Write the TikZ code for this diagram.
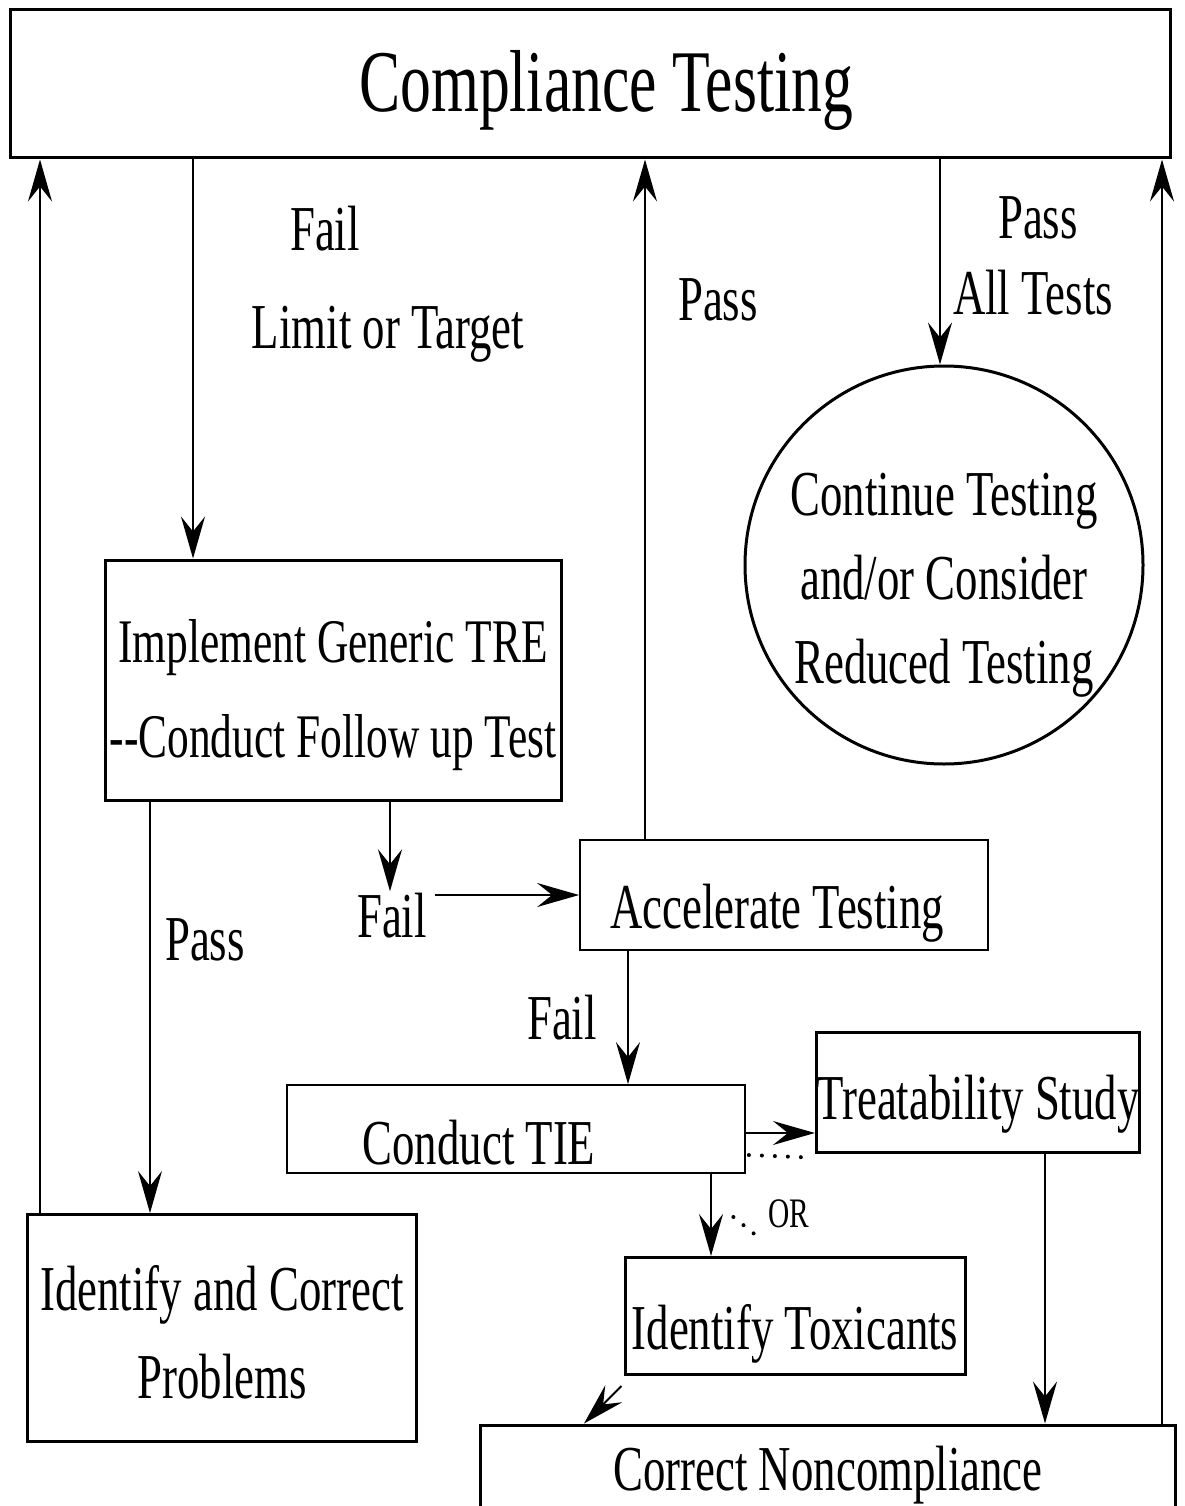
\documentclass[tikz,border=0pt]{standalone}
\usepackage{fontspec}
\setmainfont{Liberation Serif}[FakeStretch=0.7]
\usetikzlibrary{arrows.meta}
\newcommand\shiftv[2]{\raisebox{#1}[\height][\depth]{#2}}
\newcommand\lowr[2]{\raisebox{-#1}[\height][\depth]{\begin{tabular}{@{}c@{}}#2\end{tabular}}}
\begin{document}
\begin{tikzpicture}[x=1pt,y=-1pt,
  thickbox/.style={draw,line width=3pt,rectangle,inner sep=0pt,align=center},
  thinbox/.style={draw,line width=1.8pt,rectangle,inner sep=0pt,align=center},
  txt/.style={font=\fontsize{64}{90}\selectfont},
  lbl/.style={inner sep=2pt,font=\fontsize{64}{76}\selectfont,align=center},
  arr/.style={line width=2pt,-{Stealth[length=42pt,width=24pt,inset=15pt]}},
  dotl/.style={line width=4pt,line cap=round,dash pattern=on 0pt off 13pt}]
\useasboundingbox (0,0) rectangle (1184,1506);
\fill[white] (0,0) rectangle (1184,1506);

\node[thickbox,minimum width=1160pt,minimum height=148pt,font=\fontsize{88}{100}\selectfont] (ct) at (590,84) {\hspace*{32pt}\shiftv{-6pt}{Compliance Testing}};
\node[thickbox,minimum width=456pt,minimum height=240pt,font=\fontsize{62}{95}\selectfont] (impl) at (333,680) {\lowr{11pt}{Implement Generic TRE\\-{}-Conduct Follow up Test}};
\node[draw,line width=3pt,circle,minimum size=398pt,inner sep=0pt,font=\fontsize{64}{84}\selectfont] (circ) at (944,565) {\lowr{18pt}{Continue Testing\\and/or Consider\\Reduced Testing}};
\node[thinbox,txt,minimum width=408pt,minimum height=110pt] (acc) at (784,895) {\shiftv{-18pt}{Accelerate Testing}\hspace*{14pt}};
\node[thinbox,txt,minimum width=458pt,minimum height=88pt] (tie) at (516,1129) {\shiftv{-14pt}{\hspace*{-74pt}Conduct TIE}};
\node[thickbox,txt,minimum width=320pt,minimum height=120pt] (ts) at (978,1092) {\shiftv{-12pt}{Treatability Study}};
\node[thickbox,txt,minimum width=340pt,minimum height=117pt] (idt) at (795,1316) {\shiftv{-18pt}{Identify Toxicants}};
\node[thickbox,minimum width=389pt,minimum height=227pt,font=\fontsize{64}{88}\selectfont] (idp) at (222,1328) {\lowr{9pt}{Identify and Correct\\Problems}};
\node[thickbox,txt,minimum width=695pt,minimum height=110pt] (cnc) at (828,1480) {\shiftv{5pt}{Correct Noncompliance}};

\node[lbl] (f1) at (325,229) {Fail};
\node[lbl] (lt) at (388,334) {Limit or Target};
\node[lbl] (p1) at (718,300) {Pass};
\node[lbl] (p2) at (1038,218) {Pass};
\node[lbl] (at) at (1033,293) {All Tests};
\node[lbl] (p3) at (205,940) {Pass};
\node[lbl] (f2) at (392,916) {Fail};
\node[lbl] (f3) at (562,1018) {Fail};
\node[inner sep=1pt,font=\fontsize{42}{46}\selectfont] (or) at (789,1214) {OR};

% connectors
\draw[arr] ([xshift=-182pt]idp.north) -- ([xshift=-182pt]idp.north |- ct.south);
\draw[arr] ([xshift=-140pt]impl.north |- ct.south) -- ([xshift=-140pt]impl.north);
\draw[arr] ([xshift=-139pt]acc.north) -- ([xshift=-139pt]acc.north |- ct.south);
\draw[arr] ([xshift=-4pt]circ.north |- ct.south) -- ([xshift=-4pt]circ.north);
\draw[arr] ([xshift=-15pt]cnc.north east) -- ([xshift=-15pt]cnc.north east |- ct.south);
\draw[arr] ([xshift=-183pt]impl.south) -- ([xshift=-183pt]impl.south |- idp.north);
\draw[arr] ([xshift=57pt]impl.south) -- ([xshift=57pt]impl.south |- f2.north);
\draw[arr] ([xshift=6pt]f2.east |- acc.west) -- (acc.west);
\draw[arr] ([xshift=-156pt]acc.south) -- ([xshift=-156pt]acc.south |- tie.north);
\draw[arr] ([yshift=-4pt]tie.east) -- ([yshift=-4pt]tie.east -| ts.west);
\draw[arr] ([xshift=195pt]tie.south) -- ([xshift=195pt]tie.south |- idt.north);
\draw[arr] ([xshift=-2pt,yshift=-10pt]idt.south west) -- ([xshift=105pt]cnc.north west);
\draw[arr] ([xshift=67pt]ts.south) -- ([xshift=67pt]ts.south |- cnc.north);

% dotted OR marks
\draw[dotl] ([xshift=3pt,yshift=-26pt]tie.east) -- ([xshift=-6pt,yshift=-4pt]ts.south west);
\draw[dotl] ([xshift=-34pt,yshift=-3pt]or.west) -- ([xshift=-8pt,yshift=-24pt]or.west);
\end{tikzpicture}
\end{document}
